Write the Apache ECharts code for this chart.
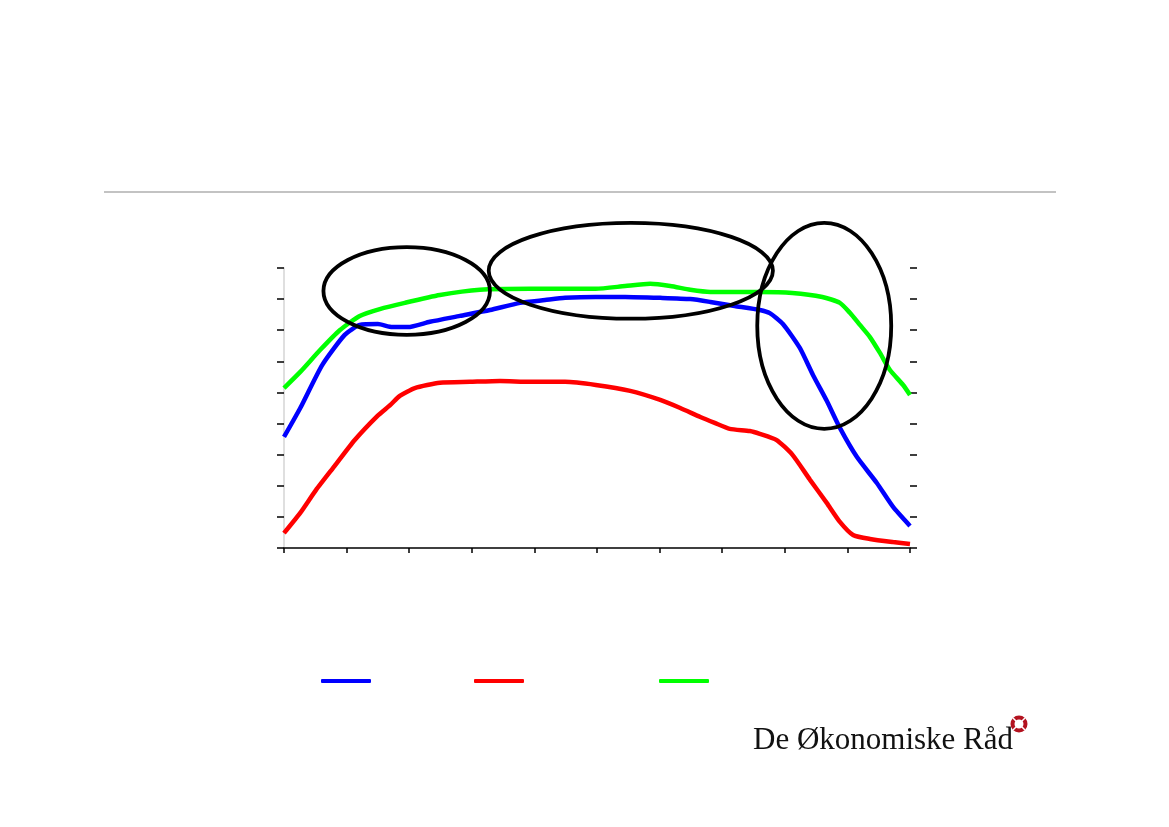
<!DOCTYPE html>
<html><head><meta charset="utf-8">
<script src="https://cdn.jsdelivr.net/npm/echarts@6/dist/echarts.min.js"></script>
<style>html,body{margin:0;padding:0;background:#fff}#c{width:1169px;height:827px}</style>
</head><body><div id="c"></div>
<script>
// x positions (0..100) and values for each series
const blueX = [0,2.6,6.1,9.7,12.1,15.0,17.3,19.8,23.3,28.1,32.9,37.7,41.7,44.9,49.8,54.5,60.1,64.9,68.1,72.0,76.0,77.6,79.7,82.4,84.5,86.7,88.8,91.5,94.7,97.3,100];
const blueY = [3.57,4.50,5.88,6.85,7.17,7.2,7.1,7.1,7.27,7.46,7.65,7.88,7.97,8.04,8.07,8.07,8.04,8.0,7.91,7.78,7.65,7.55,7.2,6.43,5.56,4.73,3.86,2.93,2.09,1.32,0.71];
const redX = [0,2.6,5.1,8.1,11.3,14.9,17.0,18.5,20.9,24.9,29.7,34.5,39.3,44.9,49.8,55.3,60.1,63.3,66.5,68.8,71.2,74.4,76.0,78.7,81.2,84.0,86.7,88.8,90.9,93.6,97.3,100];
const redY = [0.48,1.13,1.86,2.64,3.47,4.24,4.6,4.89,5.14,5.31,5.34,5.37,5.34,5.34,5.24,5.05,4.76,4.5,4.21,4.02,3.83,3.76,3.67,3.47,3.0,2.2,1.45,0.84,0.42,0.29,0.19,0.13];
const greenX = [0,2.6,5.8,8.9,12.1,15.3,19.3,24.9,31.3,39.3,49.8,54.5,58.5,61.7,64.9,68.1,76.0,81.2,86.0,88.8,90.4,92.0,93.6,95.2,96.8,98.9,100];
const greenY = [5.14,5.66,6.37,7.0,7.46,7.68,7.88,8.13,8.3,8.33,8.33,8.42,8.49,8.42,8.3,8.23,8.23,8.2,8.07,7.88,7.56,7.17,6.78,6.27,5.72,5.24,4.92];
const seriesNames = ['A','B','C'];
// highlight ellipses in data units: [cx, cy, rx, ry]
const ellipses = [[19.6,8.26,13.3,1.41],[55.4,8.91,22.7,1.54],[86.3,7.14,10.7,3.31]];

const zip = (xs, ys) => xs.map((x, i) => [x, ys[i]]);
const chart = echarts.init(document.getElementById('c'));
const yAxisBase = {
  type:'value', min:0, max:9, interval:1,
  axisLabel:{show:false}, splitLine:{show:false},
  axisTick:{show:true, length:7, lineStyle:{color:'#000', width:1.5}}
};
const lineSeries = (name, data, color) => ({
  name, type:'line', data, showSymbol:false, smooth:0.2,
  lineStyle:{color, width:4.5}, itemStyle:{color}, z:3
});
const legendAt = (name, left) => ({
  data:[name], left, top:679, padding:0, icon:'roundRect', itemWidth:50, itemHeight:4,
  formatter:()=>'', textStyle:{fontSize:1}, selectedMode:false
});
chart.setOption({
  animation:false,
  grid:{left:284, right:259, top:268, bottom:279},
  xAxis:{type:'value', min:0, max:100, interval:10,
    axisLine:{lineStyle:{color:'#000', width:1.5}},
    axisTick:{show:true, length:5, lineStyle:{color:'#000', width:1.5}},
    axisLabel:{show:false}, splitLine:{show:false}},
  yAxis:[
    Object.assign({}, yAxisBase, {position:'left', axisLine:{show:true, lineStyle:{color:'#d4d4d4', width:1.5}}}),
    Object.assign({}, yAxisBase, {position:'right', axisLine:{show:false}})
  ],
  legend:[legendAt('A',321), legendAt('B',474), legendAt('C',659)],
  series:[
    lineSeries(seriesNames[0], zip(blueX, blueY), '#0000ff'),
    lineSeries(seriesNames[1], zip(redX, redY), '#ff0000'),
    lineSeries(seriesNames[2], zip(greenX, greenY), '#00ff00')
  ]
});
const g = ellipses.map(e => {
  const c = chart.convertToPixel({gridIndex:0}, [e[0], e[1]]);
  const c2 = chart.convertToPixel({gridIndex:0}, [e[0]+e[2], e[1]+e[3]]);
  return {type:'ellipse', shape:{cx:c[0], cy:c[1], rx:Math.abs(c2[0]-c[0]), ry:Math.abs(c[1]-c2[1])},
    style:{fill:null, stroke:'#000', lineWidth:3.8}, z:10};
});
g.push({type:'line', shape:{x1:104, y1:192, x2:1056, y2:192}, style:{stroke:'#c3c3c3', lineWidth:2}});
g.push({type:'text', left:753, top:725, style:{text:'De Økonomiske Råd', font:'31px "Liberation Serif", "DejaVu Serif", serif', fill:'#111'}});
g.push({type:'circle', shape:{cx:1019, cy:724, r:6.5}, style:{fill:null, stroke:'#b3121f', lineWidth:4}});
g.push({type:'line', shape:{x1:1013, y1:718, x2:1025, y2:730}, style:{stroke:'#fff', lineWidth:1.5}});
g.push({type:'line', shape:{x1:1025, y1:718, x2:1013, y2:730}, style:{stroke:'#fff', lineWidth:1.5}});
chart.setOption({graphic:g});
</script></body></html>
